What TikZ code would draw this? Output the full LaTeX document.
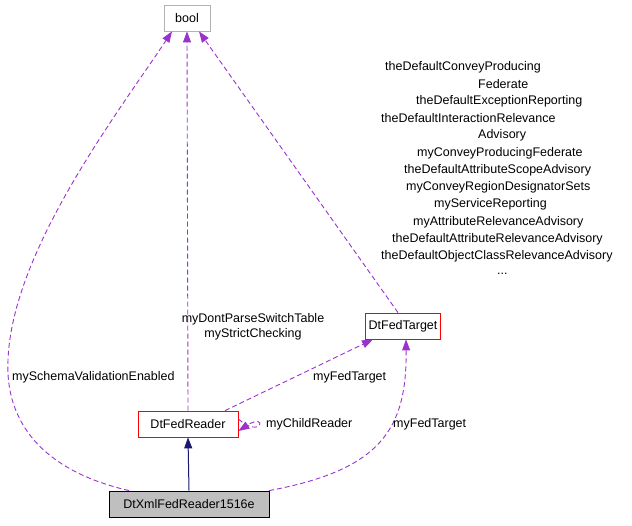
\documentclass[tikz,border=0pt]{standalone}
\usepackage{fontspec}
\setmainfont{Liberation Sans}
\usetikzlibrary{arrows.meta}
\definecolor{dpurple}{RGB}{154,50,205}
\definecolor{navy}{RGB}{25,25,112}
\begin{document}
\begin{tikzpicture}[x=1pt,y=-1pt,font=\fontsize{12.5}{14}\selectfont,
  box/.style={draw=#1,fill=white,minimum height=26pt,inner sep=3pt,line width=0.8pt},
  dep/.style={draw=dpurple,dash pattern=on 5pt off 3pt,line width=0.9pt,-{Triangle[length=11pt,width=8pt,fill=dpurple]}},
  inh/.style={draw=navy,line width=1pt,-{Triangle[length=11pt,width=8pt,fill=navy]}},
  lbl/.style={inner sep=0pt,anchor=west}]
\useasboundingbox (0,0) rectangle (632,525);
\node[box=gray!60,minimum width=46pt] (bool) at (187,18) {bool};
\node[box=red,minimum width=71pt] (tgt) at (403,326) {DtFedTarget};
\node[box=red,minimum width=100pt] (rdr) at (188,424) {DtFedReader};
\node[box=black,fill=gray!50,minimum width=160pt] (xml) at (189,504) {DtXmlFedReader1516e};
\draw[inh] (xml.north) -- (rdr.south);
\draw[dep] ([xshift=0pt]rdr.north) -- (bool.south);
\draw[dep] ([xshift=-60pt]xml.north) .. controls (40,470) and (5,420) .. (8,360) .. controls (12,250) and (120,110) .. ([xshift=-15pt]bool.south);
\draw[dep] ([xshift=-5pt]tgt.north) -- ([xshift=12pt]bool.south);
\draw[dep] ([xshift=37pt]rdr.north) -- ([xshift=-30pt]tgt.south);
\draw[dep] ([yshift=5pt]rdr.east) .. controls (262,440) and (268,412) .. ([yshift=-7pt]rdr.east);
\draw[dep] ([xshift=80pt]xml.north) .. controls (380,470) and (407,430) .. ([xshift=3pt]tgt.south);
\node[anchor=center,align=center] at (253,327) {myDontParseSwitchTable\\[1pt]myStrictChecking};
\node[lbl] at (12,377) {mySchemaValidationEnabled};
\node[lbl] at (313,377) {myFedTarget};
\node[lbl] at (266,424) {myChildReader};
\node[lbl] at (393,424) {myFedTarget};
\foreach \t/\x/\y in {theDefaultConveyProducing/385/67, Federate/478/84, theDefaultExceptionReporting/416/101, theDefaultInteractionRelevance/381/118, Advisory/478/135, myConveyProducingFederate/417/153, theDefaultAttributeScopeAdvisory/404/170, myConveyRegionDesignatorSets/406/187, myServiceReporting/434/204, myAttributeRelevanceAdvisory/413/222, theDefaultAttributeRelevanceAdvisory/392/239, theDefaultObjectClassRelevanceAdvisory/381/256}
  \node[lbl] at (\x,\y) {\t};
\node[lbl] at (497,274) {...};
\end{tikzpicture}
\end{document}
